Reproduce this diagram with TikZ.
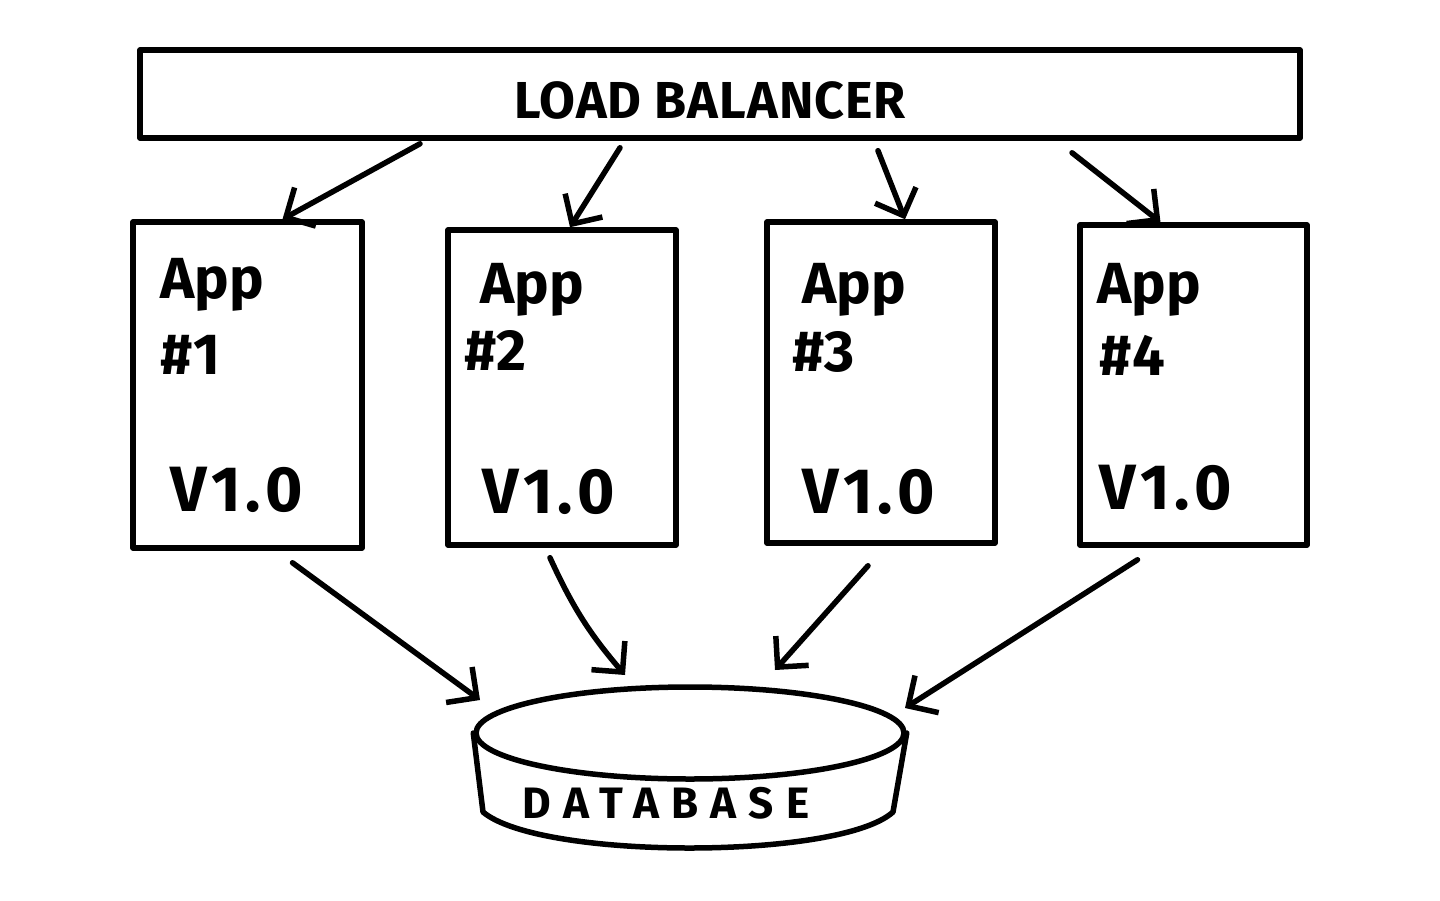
\documentclass[tikz,border=0pt]{standalone}
\usepackage{fontspec}
\setmainfont{Fira Sans}
\usetikzlibrary{arrows.meta,shapes.geometric}
\begin{document}
\begin{tikzpicture}[x=1pt,y=-1pt,line width=5.5pt,line join=round,line cap=round,
  box/.style={draw,rectangle,line width=5.5pt,inner sep=0pt},
  arr/.style={-{Straight Barb[length=22pt,width=44pt,line width=5.5pt]},line width=5.5pt},
  lbtxt/.style={font=\fontsize{52}{56}\selectfont\bfseries\addfontfeatures{LetterSpace=2}},
  apptxt/.style={anchor=west,inner sep=0pt,font=\fontsize{58}{62}\selectfont\bfseries},
  vtxt/.style={anchor=west,inner sep=0pt,font=\fontsize{64}{68}\selectfont\bfseries\addfontfeatures{LetterSpace=8}},
  dbtxt/.style={font=\fontsize{44}{48}\selectfont\bfseries\addfontfeatures{LetterSpace=28}}]
\useasboundingbox[fill=white] (0,0) rectangle (1440,900);
% load balancer
\node[box,minimum width=1160pt,minimum height=88pt] (lb) at (720,94) {};
\node[lbtxt] (lbt) at (710,100) {LOAD BALANCER};
% app boxes
\node[box,minimum width=229pt,minimum height=326pt] (a1) at (247.5,385) {};
\node[box,minimum width=228pt,minimum height=315pt] (a2) at (562,387.5) {};
\node[box,minimum width=228pt,minimum height=321pt] (a3) at (881,382.5) {};
\node[box,minimum width=227pt,minimum height=320pt] (a4) at (1193.5,385) {};
% app texts
\node[apptxt] (t1a) at (158,285) {App};
\node[apptxt] (t1b) at (158,355) {\#1};
\node[vtxt] (t1c) at (168,490) {V1.0};
\node[apptxt] (t2a) at (478,290) {App};
\node[apptxt] (t2b) at (462,350) {\#2};
\node[vtxt] (t2c) at (480,492) {V1.0};
\node[apptxt] (t3a) at (800,290) {App};
\node[apptxt] (t3b) at (790,352) {\#3};
\node[vtxt] (t3c) at (800,492) {V1.0};
\node[apptxt] (t4a) at (1095,290) {App};
\node[apptxt] (t4b) at (1097,355) {\#4};
\node[vtxt] (t4c) at (1097,488) {V1.0};
% database
\node[draw,ellipse,minimum width=428pt,minimum height=92pt,line width=5.5pt] (db) at (690,733) {};
\draw (db.west) -- (483,812) .. controls (540,860) and (840,860) .. (893,812) -- (db.east);
\node[dbtxt] (dbt) at (666,803) {DATABASE};
% arrows LB -> apps
\draw[arr] ([xshift=-300pt,yshift=-3pt]lb.south) -- ([xshift=35pt]a1.north);
\draw[arr] ([xshift=-100pt,yshift=-7pt]lb.south) -- ([xshift=8pt]a2.north);
\draw[arr] ([xshift=158pt,yshift=-10pt]lb.south) -- ([xshift=24pt]a3.north);
\draw[arr] ([xshift=352pt,yshift=-12pt]lb.south) -- ([xshift=-33pt]a4.north);
% arrows apps -> db
\draw[arr] ([xshift=45pt,yshift=-12pt]a1.south) -- ([xshift=-210pt,yshift=33pt]db.center);
\draw[arr] ([xshift=-12pt,yshift=-10pt]a2.south) to[bend right=8] ([xshift=-65pt,yshift=58pt]db.center);
\draw[arr] ([xshift=-13pt,yshift=-20pt]a3.south) -- ([xshift=85pt,yshift=63pt]db.center);
\draw[arr] ([xshift=-56pt,yshift=-12pt]a4.south) -- ([xshift=215pt,yshift=25pt]db.center);
\end{tikzpicture}
\end{document}
